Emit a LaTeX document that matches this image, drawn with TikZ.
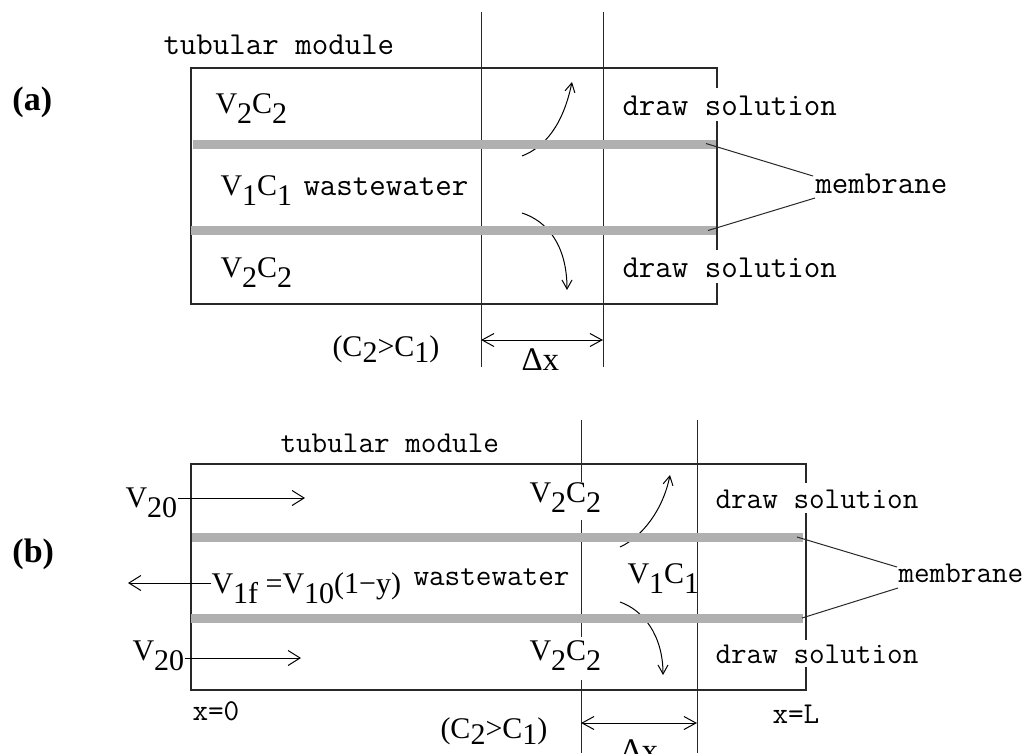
\documentclass[tikz,border=0pt]{standalone}
\usepackage{fontspec}
\setmainfont{Liberation Serif}
\usetikzlibrary{arrows.meta}
\definecolor{memgray}{RGB}{176,176,176}
\definecolor{linecol}{RGB}{40,40,40}
\newcommand\lo[1]{\raisebox{-0.36em}{#1}}
\newcommand\los[1]{\raisebox{-0.2em}{#1}}
\begin{document}
\begin{tikzpicture}[x=1pt,y=-1pt,line width=1pt,
  lbl/.style={font=\ttfamily\fontsize{32}{34}\selectfont,inner sep=0pt,anchor=base west},
  lblb/.style={font=\ttfamily\fontsize{30.3}{32}\selectfont,inner sep=0pt,anchor=base west},
  frm/.style={font=\fontsize{30}{32}\selectfont,inner sep=0pt,anchor=base west},
  dlt/.style={font=\fontsize{33}{35}\selectfont,inner sep=0pt,anchor=base west},
  tag/.style={font=\bfseries\fontsize{34}{36}\selectfont,inner sep=0pt,anchor=base west},
  box/.style={draw=linecol,line width=1.2pt},
  mem/.style={draw=memgray,line width=9pt},
  flow/.style={-{Straight Barb[length=12pt,width=15pt]}},
  curv/.style={-{Straight Barb[length=9pt,width=10pt]}},
  dim/.style={{Straight Barb[length=12pt,width=13pt]}-{Straight Barb[length=12pt,width=13pt]}}]
\useasboundingbox (0,0) rectangle (1029,753);
\clip (0,0) rectangle (1029,753);
% ---------------- panel (a) ----------------
\draw[box] (717,88) -- (717,68) -- (191,68) -- (191,304) -- (717,304) -- (717,283);
\draw[box] (717,121) -- (717,250);
\draw[linecol] (481,12) -- (481,367);
\draw[linecol] (603,12) -- (603,367);
\draw[curv] (522,156) .. controls (545,147) and (563,125) .. (572,82);
\draw[curv] (522,213) .. controls (547,221) and (567,245) .. (567,290);
\draw[mem] (193,144.5) -- (716,144.5);
\draw[mem] (191,230) -- (716,230);
\node[tag] (taga) at (12,110) {(a)};
\node[lbl] (tma) at (163,54) {tubular module};
\node[frm] (vca1) at (215,113) {V\lo{2}C\lo{2}};
\node[frm] (vca2) at (220,195) {V\lo{1}C\lo{1}};
\node[lbl] (wwa) at (303,195) {wastewater};
\node[frm] (vca3) at (220,277) {V\lo{2}C\lo{2}};
\node[lbl] (dsa1) at (622,115) {draw solution};
\node[lbl] (dsa2) at (622,277) {draw solution};
\node[lbl] (mema) at (815,193) {membrane};
\coordinate (ma0) at (706,143.5);
\coordinate (ma1) at (813,176);
\coordinate (ma2) at (708,230.5);
\coordinate (ma3) at (815,198);
\draw[linecol] (ma0) -- (ma1);
\draw[linecol] (ma2) -- (ma3);
\node[frm] (cca) at (332,356) {(C\los{2}>C\los{1})};
\coordinate (da1) at (481,340);
\coordinate (da2) at (603,340);
\draw[dim] (da1) -- (da2);
\node[dlt] (dxa) at (521,370) {Δx};
% ---------------- panel (b) ----------------
\draw[box] (806,483) -- (806,464) -- (191,464) -- (191,690) -- (806,690) -- (806,667);
\draw[box] (806,513) -- (806,640);
\draw[linecol] (581,420) -- (581,482);
\draw[linecol] (581,520) -- (581,637);
\draw[linecol] (581,680) -- (581,753);
\draw[linecol] (697,420) -- (697,753);
\draw[curv] (620,547) .. controls (642,537) and (663,510) .. (670,475);
\draw[curv] (620,602) .. controls (643,610) and (663,635) .. (663,675);
\draw[mem] (192,537) -- (803,537);
\draw[mem] (191,618.5) -- (803,618.5);
\node[tag] (tagb) at (12,562) {(b)};
\node[lblb] (tmb) at (280,452) {tubular module};
\node[frm] (v20a) at (125,507) {V\lo{20}};
\coordinate (ya) at (305,498);
\draw[flow] (v20a.east |- ya) -- (ya);
\node[frm] (v20b) at (132,660) {V\lo{20}};
\coordinate (yb) at (301,658);
\draw[flow] (v20b.east |- yb) -- (yb);
\node[frm] (v1f) at (211,593) {V\lo{1f} =V\lo{10}(1−y)};
\coordinate (lf) at (128,583);
\draw[flow] (v1f.west |- lf) -- (lf);
\node[lblb] (wwb) at (413,585) {wastewater};
\node[frm] (vcb1) at (529,502) {V\lo{2}C\lo{2}};
\node[frm] (vcb3) at (529,660) {V\lo{2}C\lo{2}};
\node[frm] (vcb2) at (627,583) {V\lo{1}C\lo{1}};
\node[lblb] (dsb1) at (715,508) {draw solution};
\node[lblb] (dsb2) at (715,663) {draw solution};
\node[lblb] (memb) at (898,582) {membrane};
\coordinate (mb0) at (797,537);
\coordinate (mb1) at (897,567);
\coordinate (mb2) at (802,618);
\coordinate (mb3) at (898,588);
\draw[linecol] (mb0) -- (mb1);
\draw[linecol] (mb2) -- (mb3);
\node[lblb] (x0) at (192,720) {x=0};
\node[lblb] (xl) at (772,723) {x=L};
\node[frm] (ccb) at (440,738) {(C\los{2}>C\los{1})};
\coordinate (db1) at (581,723);
\coordinate (db2) at (697,723);
\draw[dim] (db1) -- (db2);
\node[dlt] (dxb) at (620,761) {Δx};
\end{tikzpicture}
\end{document}
